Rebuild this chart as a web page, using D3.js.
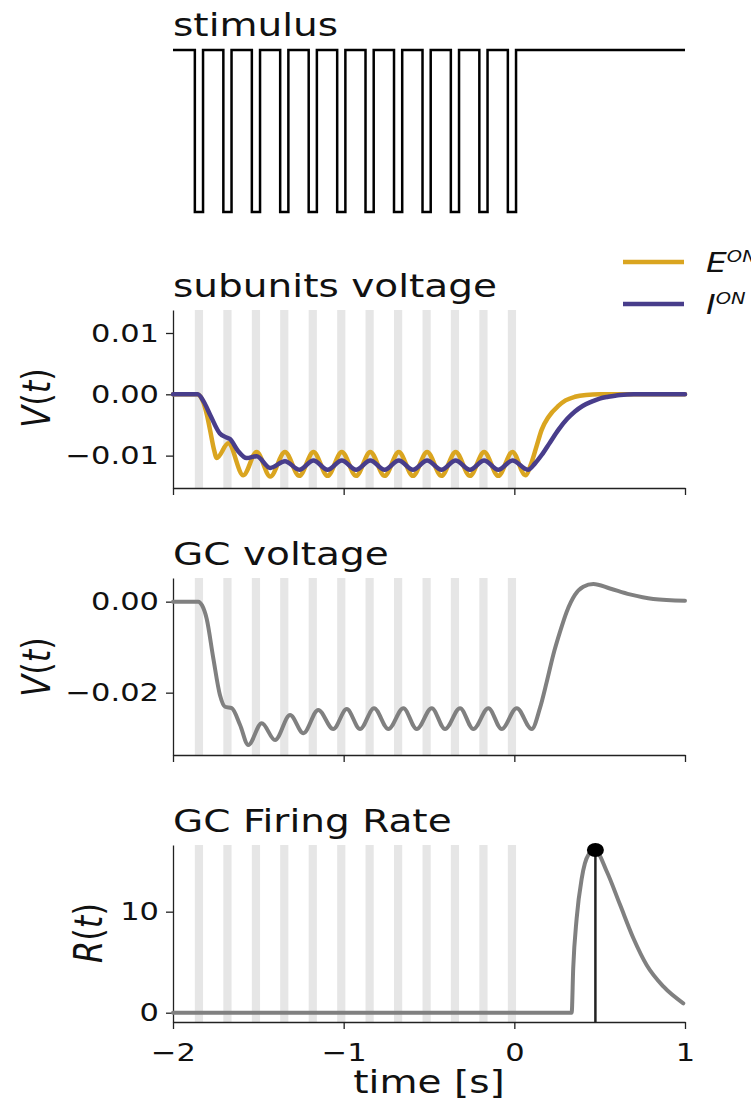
<!doctype html>
<html lang="en">
<head>
<meta charset="utf-8">
<style>
  body { margin: 0; background-color: white; }
  svg { display: block; background-color: white; }
  text { font-family: "DejaVu Sans", sans-serif; fill: #111; }
</style>
</head>
<body>
<script src="https://d3js.org/d3.v7.min.js"></script>
<script>
var width = 751, height = 1106;
var sx = 1.22; // picture is stretched sideways, text too

// time axis
var xTicks = [-2, -1, 0, 1];
var xTickLabels = ["\u22122", "\u22121", "0", "1"];

// flashes (start time, s) and their length
var flashStart = [-1.872, -1.705, -1.538, -1.372, -1.205, -1.038, -0.872, -0.705, -0.538, -0.372, -0.205, -0.038];
var flashWidth = 0.048;

// subunits voltage, E^ON
var eTime = [-2, -1.86, -1.83, -1.80, -1.783, -1.76, -1.744, -1.676, -1.588, -1.51, -1.43, -1.344,
  -1.26, -1.177, -1.094, -1.011, -0.927, -0.844, -0.76, -0.677, -0.594, -0.511, -0.427, -0.344,
  -0.26, -0.177, -0.094, -0.011, 0.065, 0.10, 0.13, 0.16, 0.20, 0.258, 0.30, 0.355, 0.42, 0.5, 1.0];
var eV = [0, 0, -0.0008, -0.0035, -0.0058, -0.0090, -0.0104, -0.0080, -0.0132, -0.0094, -0.0134, -0.0094,
  -0.0133, -0.0094, -0.0133, -0.0094, -0.0133, -0.0094, -0.0133, -0.0094, -0.0133, -0.0094, -0.0133, -0.0094,
  -0.0133, -0.0094, -0.0133, -0.0094, -0.0132, -0.0112, -0.0085, -0.0058, -0.0037, -0.0019, -0.0010, -0.0004, -0.0001, 0, 0];

// subunits voltage, I^ON
var iTime = [-2, -1.855, -1.82, -1.78, -1.725, -1.69, -1.666, -1.62, -1.568, -1.51, -1.43, -1.344,
  -1.26, -1.177, -1.094, -1.011, -0.927, -0.844, -0.76, -0.677, -0.594, -0.511, -0.427, -0.344,
  -0.26, -0.177, -0.094, -0.011, 0.08, 0.12, 0.16, 0.21, 0.258, 0.31, 0.355, 0.40, 0.453, 0.5, 0.55, 0.62, 0.7, 1.0];
var iV = [0, 0, -0.0012, -0.0035, -0.0064, -0.0070, -0.0073, -0.0092, -0.0104, -0.0101, -0.0120, -0.0109,
  -0.0123, -0.0108, -0.0123, -0.0108, -0.0123, -0.0108, -0.0123, -0.0108, -0.0123, -0.0108, -0.0123, -0.0108,
  -0.0123, -0.0108, -0.0123, -0.0108, -0.0123, -0.0113, -0.0099, -0.0078, -0.0058, -0.0040, -0.0028, -0.0019, -0.0012, -0.0007, -0.0004, -0.0001, 0, 0];

// GC voltage
var gcTime = [-2, -1.852, -1.83, -1.803, -1.764, -1.725, -1.695, -1.656, -1.607, -1.559, -1.48, -1.402,
  -1.314, -1.236, -1.149, -1.061, -0.982, -0.904, -0.822, -0.738, -0.65, -0.572, -0.484, -0.406,
  -0.318, -0.24, -0.152, -0.074, 0.014, 0.102, 0.15, 0.19, 0.228, 0.268, 0.307, 0.355, 0.404, 0.463,
  0.56, 0.677, 0.814, 1.0];
var gcV = [0, 0, -0.0008, -0.0037, -0.0124, -0.0205, -0.0231, -0.0234, -0.0271, -0.0315, -0.0267, -0.0304,
  -0.0249, -0.0289, -0.0238, -0.0280, -0.0236, -0.0280, -0.0234, -0.0280, -0.0234, -0.0280, -0.0234, -0.0280,
  -0.0234, -0.0280, -0.0234, -0.0280, -0.0234, -0.0280, -0.0234, -0.0176, -0.0117, -0.0066, -0.0022, 0.0015, 0.0033, 0.0039,
  0.0029, 0.0016, 0.0006, 0.0002];

// GC firing rate
var rateTime = [-2, 0.336, 0.345, 0.365, 0.395, 0.433, 0.473, 0.541, 0.619, 0.697, 0.776, 0.873, 0.99];
var rateR = [0, 0, 4.4, 9.3, 13.3, 15.6, 16.1, 14.0, 10.7, 7.4, 4.7, 2.6, 0.93];
var peakTime = 0.475, peakRate = 16.1;

var svg = d3.select("body").append("svg")
  .attr("width", width)
  .attr("height", height);

var x = d3.scaleLinear().domain([-2, 1]).range([173, 685]);

function addText(g, str, tx, ty, size, anchor) {
  return g.append("text")
    .attr("transform", "translate(" + tx + "," + ty + ") scale(" + sx + ",1)")
    .attr("font-size", size)
    .attr("text-anchor", anchor || "start")
    .text(str);
}

// math style label like V(t), rotated
function mathLabel(g, letter, tx, ty) {
  var t = g.append("text")
    .attr("transform", "translate(" + tx + "," + ty + ") scale(" + sx + ",1) rotate(-90)")
    .attr("font-size", 32)
    .attr("text-anchor", "middle");
  t.append("tspan").attr("font-style", "italic").text(letter);
  t.append("tspan").text("(");
  t.append("tspan").attr("font-style", "italic").text("t");
  t.append("tspan").text(")");
}

function stretchTicks(axisG) {
  axisG.attr("font-size", null).attr("font-family", null);
  axisG.selectAll(".tick text").each(function() {
    var t = d3.select(this);
    var tx = +t.attr("x") || 0, ty = +t.attr("y") || 0;
    t.attr("x", 0).attr("y", 0)
      .attr("font-size", 25)
      .attr("transform", "translate(" + tx + "," + ty + ") scale(" + sx + ",1)");
  });
  axisG.selectAll("path, line").attr("stroke", "#222").attr("stroke-width", 1.3);
}

function panel(top, bottom, yDomain, yTicks, yFmt, withXLabels) {
  var y = d3.scaleLinear().domain(yDomain).range([bottom, top]);
  var g = svg.append("g");

  g.selectAll("rect.flash")
    .data(flashStart)
    .join("rect")
    .attr("class", "flash")
    .attr("x", function(d) { return x(d); })
    .attr("width", function(d) { return x(d + flashWidth) - x(d); })
    .attr("y", top)
    .attr("height", bottom - top)
    .attr("fill", "#e6e6e6");

  var ya = g.append("g")
    .attr("transform", "translate(" + x(-2) + ",0)")
    .call(d3.axisLeft(y).tickValues(yTicks).tickFormat(yFmt)
      .tickSize(7).tickSizeOuter(0).tickPadding(7));
  stretchTicks(ya);

  var xa = g.append("g")
    .attr("transform", "translate(0," + bottom + ")")
    .call(d3.axisBottom(x).tickValues(xTicks)
      .tickFormat(function(d, i) { return withXLabels ? xTickLabels[i] : ""; })
      .tickSize(7).tickSizeOuter(0).tickPadding(8));
  stretchTicks(xa);
  xa.selectAll(".tick text").attr("dy", "0.95em");

  return { g: g, y: y };
}

function fmtV(d) {
  return d3.format(".2f")(d).replace("-", "\u2212");
}

function drawLine(p, ts, vs, color, w) {
  var pts = ts.map(function(t, i) { return [t, vs[i]]; });
  p.g.append("path")
    .datum(pts)
    .attr("fill", "none")
    .attr("stroke", color)
    .attr("stroke-width", w)
    .attr("stroke-linejoin", "round")
    .attr("stroke-linecap", "round")
    .attr("d", d3.line()
      .x(function(d) { return x(d[0]); })
      .y(function(d) { return p.y(d[1]); })
      .curve(d3.curveMonotoneX));
}

// ---- stimulus ----
var ys = d3.scaleLinear().domain([0, 1]).range([212, 50]);
var stim = [[-2, 1]];
flashStart.forEach(function(s) {
  stim.push([s, 0]);
  stim.push([s + flashWidth, 1]);
});
stim.push([1, 1]);
svg.append("path")
  .datum(stim)
  .attr("fill", "none")
  .attr("stroke", "black")
  .attr("stroke-width", 2.5)
  .attr("d", d3.line()
    .x(function(d) { return x(d[0]); })
    .y(function(d) { return ys(d[1]); })
    .curve(d3.curveStepAfter));
addText(svg, "stimulus", 173, 36, 32);

// ---- subunits voltage ----
var p2 = panel(310, 488, [-0.01528, 0.01375], [-0.01, 0, 0.01], fmtV, false);
drawLine(p2, eTime, eV, "#DAA520", 4.5);
drawLine(p2, iTime, iV, "#483D8B", 4.5);
addText(svg, "subunits voltage", 173, 297, 32);
mathLabel(svg, "V", 50, 398);

// legend (runs off the right edge, as in the figure)
var legend = [
  { name: "E", color: "#DAA520", y: 262 },
  { name: "I", color: "#483D8B", y: 304 }
];
legend.forEach(function(l) {
  svg.append("line")
    .attr("x1", 623).attr("x2", 684)
    .attr("y1", l.y).attr("y2", l.y)
    .attr("stroke", l.color)
    .attr("stroke-width", 4.5);
  var t = svg.append("text")
    .attr("transform", "translate(706," + (l.y + 10) + ") scale(" + sx + ",1)")
    .attr("font-size", 27)
    .attr("font-style", "italic");
  t.append("tspan").text(l.name);
  t.append("tspan").attr("dy", -10).attr("font-size", 16).text("ON");
});

// ---- GC voltage ----
var p3 = panel(578, 755, [-0.0337, 0.0052], [-0.02, 0], fmtV, false);
drawLine(p3, gcTime, gcV, "#808080", 4);
addText(svg, "GC voltage", 173, 565, 32);
mathLabel(svg, "V", 50, 667);

// ---- GC firing rate ----
var p4 = panel(845, 1022, [-0.92, 16.6], [0, 10], d3.format("d"), true);
drawLine(p4, rateTime, rateR, "#808080", 4);
p4.g.append("line")
  .attr("x1", x(peakTime)).attr("x2", x(peakTime))
  .attr("y1", p4.y(peakRate)).attr("y2", 1022)
  .attr("stroke", "#222")
  .attr("stroke-width", 2.5);
p4.g.append("ellipse")
  .attr("cx", x(peakTime))
  .attr("cy", p4.y(peakRate))
  .attr("rx", 8.5).attr("ry", 7)
  .attr("fill", "black");
addText(svg, "GC Firing Rate", 173, 832, 32);
mathLabel(svg, "R", 102, 933);
addText(svg, "time [s]", 429, 1093, 32, "middle");
</script>
</body>
</html>
